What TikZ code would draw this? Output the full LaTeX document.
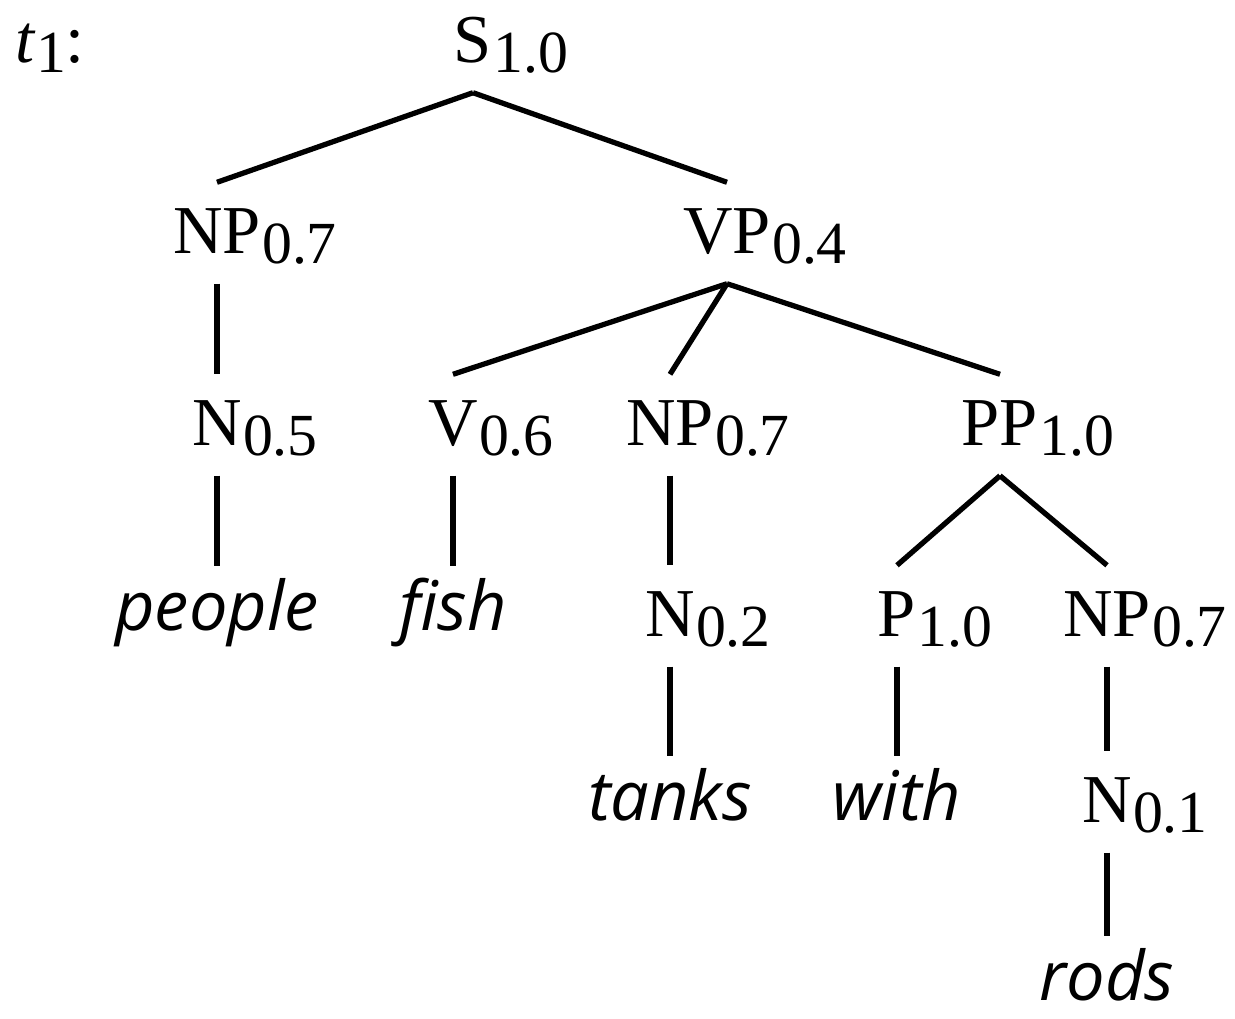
\documentclass[tikz,border=0pt]{standalone}
\usepackage{fontspec}
\setmainfont{Liberation Serif}
\newfontfamily\wordfont{Open Sans}
\newcommand{\lab}[2]{#1\rlap{\kern0.02em\raisebox{-0.1cm}{\fontsize{17}{17}\selectfont #2}}}
\tikzset{
  cat/.style={anchor=base, inner xsep=0pt, inner ysep=0.22cm, text height=0.48cm, text depth=0.08cm,
    font=\fontsize{19.5}{19.5}\selectfont},
  word/.style={anchor=base, inner xsep=0pt, inner ysep=0.02cm, text height=0.61cm, text depth=0cm,
    font=\fontsize{19.5}{19.5}\selectfont\wordfont\itshape},
  edge/.style={line width=1.5pt}
}
\begin{document}
\begin{tikzpicture}
\useasboundingbox (0,0) rectangle (12.35,-10.19);
\node[anchor=base west, inner sep=0pt, font=\fontsize{19.5}{19.5}\selectfont] (t1) at (0.15,-0.62) {\textit{t}\raisebox{-0.1cm}{\fontsize{17}{17}\selectfont 1}:};
\node[cat] (S) at (4.73,-0.62) {\lab{S}{1.0}};
\node[cat] (NPa) at (2.17,-2.53) {\lab{NP}{0.7}};
\node[cat] (VP) at (7.27,-2.53) {\lab{VP}{0.4}};
\node[cat] (Na) at (2.17,-4.45) {\lab{N}{0.5}};
\node[cat] (V) at (4.53,-4.45) {\lab{V}{0.6}};
\node[cat] (NPb) at (6.70,-4.45) {\lab{NP}{0.7}};
\node[cat] (PP) at (10.00,-4.45) {\lab{PP}{1.0}};
\node[word] (people) at (2.17,-6.30) {people};
\node[word] (fish) at (4.53,-6.30) {fish};
\node[cat] (Nb) at (6.70,-6.36) {\lab{N}{0.2}};
\node[cat] (P) at (8.97,-6.36) {\lab{P}{1.0}};
\node[cat] (NPc) at (11.07,-6.36) {\lab{NP}{0.7}};
\node[word] (tanks) at (6.70,-8.20) {tanks};
\node[word] (with) at (8.97,-8.20) {with};
\node[cat] (Nc) at (11.07,-8.22) {\lab{N}{0.1}};
\node[word] (rods) at (11.07,-10.00) {rods};
\draw[edge] (S.south) -- (NPa.north);
\draw[edge] (S.south) -- (VP.north);
\draw[edge] (NPa.south) -- (Na.north);
\draw[edge] (Na.south) -- (people.north);
\draw[edge] (VP.south) -- (V.north);
\draw[edge] (VP.south) -- (NPb.north);
\draw[edge] (VP.south) -- (PP.north);
\draw[edge] (V.south) -- (fish.north);
\draw[edge] (NPb.south) -- (Nb.north);
\draw[edge] (Nb.south) -- (tanks.north);
\draw[edge] (PP.south) -- (P.north);
\draw[edge] (PP.south) -- (NPc.north);
\draw[edge] (P.south) -- (with.north);
\draw[edge] (NPc.south) -- (Nc.north);
\draw[edge] (Nc.south) -- (rods.north);
\end{tikzpicture}
\end{document}
